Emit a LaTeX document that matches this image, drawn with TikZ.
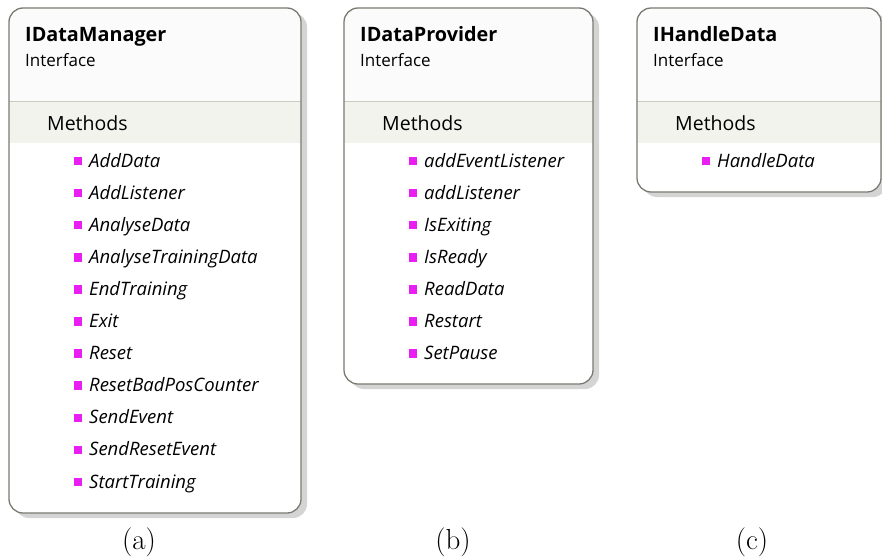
\documentclass[tikz,border=0pt]{standalone}
\usepackage{fontspec}
\setmainfont{Open Sans}
\usetikzlibrary{positioning}
\definecolor{boxborder}{HTML}{7A7A72}
\definecolor{bandfill}{HTML}{F1F3EC}
\definecolor{bandline}{HTML}{C9CCC4}
\definecolor{shadowgray}{HTML}{D4D4D4}
\definecolor{marker}{HTML}{E81EF2}
\definecolor{headfill}{HTML}{FBFBFB}
\newfontfamily\capfont{Latin Modern Roman}
\tikzset{
  boxshadow/.style={fill=shadowgray, rounded corners=14pt},
  boxbody/.style={fill=white, rounded corners=14pt},
  boxframe/.style={draw=boxborder, line width=1.3pt, rounded corners=14pt},
  titletext/.style={anchor=base west, inner sep=0pt, font=\fontsize{19.8}{22}\selectfont\bfseries},
  kindtext/.style={anchor=base west, inner sep=0pt, font=\fontsize{17}{20}\selectfont},
  grouptext/.style={anchor=base west, inner sep=0pt, font=\fontsize{19.5}{22}\selectfont},
  itemtext/.style={anchor=base west, inner sep=0pt, font=\fontsize{18.5}{21}\selectfont\itshape},
  itemmark/.style={fill=marker, minimum size=8.5pt, inner sep=0pt},
  captext/.style={inner sep=0pt, font=\capfont\fontsize{29}{32}\selectfont},
}
% \ifacebox{prefix}{left}{right}{bottom}{title}{items}
\newcommand{\ifacebox}[6]{%
  \fill[boxshadow] (#2+6,13) rectangle (#3+6,#4+5);
  \fill[boxbody] (#2,8) rectangle (#3,#4);
  \begin{scope}
    \clip[rounded corners=14pt] (#2,8) rectangle (#3,#4);
    \fill[headfill] (#2,8) rectangle (#3,101);
    \fill[bandfill] (#2,101) rectangle (#3,143);
    \draw[bandline, line width=1pt] (#2,101) -- (#3,101);
  \end{scope}
  \draw[boxframe] (#2,8) rectangle (#3,#4);
  \node[titletext] (#1title) at (#2+16,41) {#5};
  \node[kindtext] (#1kind) at (#2+16,66) {Interface};
  \node[grouptext] (#1group) at (#2+38,130) {Methods};
  \foreach \txt [count=\i] in {#6} {
    \node[itemmark] (#1mark\i) at (#2+69,161+32.1*\i-32.1) {};
    \node[itemtext] (#1item\i) at (#2+80,167+32.1*\i-32.1) {\txt};
  }%
}
\begin{document}
\begin{tikzpicture}[x=1pt,y=-1pt]
  \useasboundingbox (0,0) rectangle (882,557);
  \begin{scope}
    \clip (0,0) rectangle (882,557);
    \ifacebox{a}{9}{301}{513}{IDataManager}{AddData,AddListener,AnalyseData,AnalyseTrainingData,EndTraining,Exit,Reset,ResetBadPosCounter,SendEvent,SendResetEvent,StartTraining}
    \ifacebox{b}{344}{593}{384}{IDataProvider}{addEventListener,addListener,IsExiting,IsReady,ReadData,Restart,SetPause}
    \ifacebox{c}{637}{881}{192}{IHandleData}{HandleData}
  \end{scope}
  \node[captext] (capa) at (139,542) {(a)};
  \node[captext] (capb) at (453,542) {(b)};
  \node[captext] (capc) at (752,542) {(c)};
\end{tikzpicture}
\end{document}
